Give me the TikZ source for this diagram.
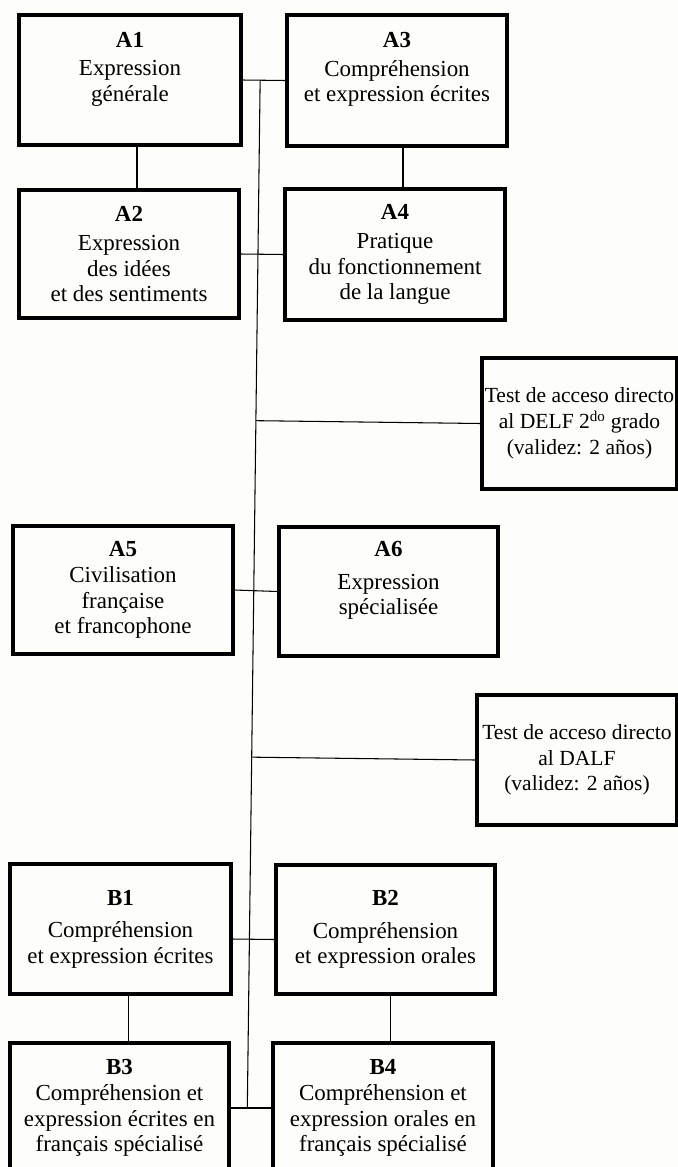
\documentclass[tikz,border=0pt]{standalone}
\usepackage{fontspec}
\setmainfont{Liberation Serif}
\usetikzlibrary{calc}
\definecolor{paper}{RGB}{253,253,249}
\newcommand{\lift}[1]{\rule[-#1]{0pt}{#1}}

\begin{document}
\begin{tikzpicture}[x=0.03cm, y=-0.03cm,
        modbox/.style = {draw, line width=2.6pt, align=center, inner sep=0pt,
            minimum width=6.6cm, minimum height=3.9cm,
            font=\fontsize{19.6}{22}\selectfont},
        testbox/.style = {modbox, font=\fontsize{18.4}{22}\selectfont},
        link/.style = {line width=0.9pt}]
    \fill[paper] (0, 0) rectangle (678, 1167);
    \useasboundingbox (0, 0) rectangle (678, 1167);

    % first block
    \node[modbox, minimum width=6.66cm] (A1) at (130, 80) {\textbf{A1}\\[0.08cm] Expression\\ générale\lift{0.8cm}};
    \node[modbox, minimum height=3.93cm] (A3) at (397, 80.5) {\textbf{A3}\\[0.08cm] Compréhension\\ et expression écrites\lift{0.8cm}};
    \node[modbox, minimum height=3.84cm] (A2) at (129, 254) {\textbf{A2}\\[0.1cm] Expression\\ des idées\\ et des sentiments};
    \node[modbox, minimum height=3.93cm] (A4) at (395, 254.5) {\textbf{A4}\\[0.1cm] Pratique\\ du fonctionnement\\ de la langue};
    \node[testbox, minimum width=5.85cm, minimum height=3.93cm] (T1) at (579.5, 423.5) {Test de acceso directo\\ al DELF 2\textsuperscript{do} grado\\ (validez: 2 años)};

    % second block
    \node[modbox, minimum height=3.84cm] (A5) at (123, 590) {\textbf{A5}\\ Civilisation\\ française\\ et francophone};
    \node[modbox, minimum width=6.57cm, minimum height=3.87cm] (A6) at (388.5, 591.5) {\textbf{A6}\\[0.2cm] Expression\\ spécialisée\lift{0.8cm}};
    \node[testbox, minimum width=6cm] (T2) at (577, 760) {Test de acceso directo\\ al DALF\\ (validez: 2 años)};

    % third block
    \node[modbox, minimum width=6.63cm] (B1) at (120.5, 929) {\textbf{B1}\\[0.2cm] Compréhension\\ et expression écrites};
    \node[modbox, minimum width=6.57cm, minimum height=3.87cm] (B2) at (385.5, 929.5) {\textbf{B2}\\[0.2cm] Compréhension\\ et expression orales};
    \node[modbox, minimum width=6.57cm] (B3) at (119.5, 1108) {\textbf{B3}\\ Compréhension et\\ expression écrites en\\ français spécialisé};
    \node[modbox] (B4) at (383, 1108) {\textbf{B4}\\ Compréhension et\\ expression orales en\\ français spécialisé};

    % connectors
    \coordinate (spinetop) at ($(A1.east)!0.41!(A3.west)$);
    \coordinate (spinebot) at ($(B3.east)!0.41!(B4.west)$);
    \draw[link] (spinetop) -- (spinebot);
    \draw[link] (A1.east) -- (A3.west);
    \draw[link] (A2.east) -- (A4.west);
    \draw[link] (A5.east) -- (A6.west);
    \draw[link] ([yshift=-0.3cm]B1.east) -- ([yshift=-0.3cm]B2.west);
    \draw[link] (B3.east) -- (B4.west);
    \draw[link] ($(spinetop)!(T1.west)!(spinebot)$) -- (T1.west);
    \draw[link] ($(spinetop)!(T2.west)!(spinebot)$) -- (T2.west);
    \draw[link] ([xshift=0.21cm]A1.south) coordinate (a12) -- (a12 |- A2.north);
    \draw[link] ([xshift=0.18cm]A3.south) coordinate (a34) -- (a34 |- A4.north);
    \draw[link] ([xshift=0.23cm]B1.south) coordinate (b13) -- (b13 |- B3.north);
    \draw[link] ([xshift=0.14cm]B2.south) coordinate (b24) -- (b24 |- B4.north);
\end{tikzpicture}
\end{document}
